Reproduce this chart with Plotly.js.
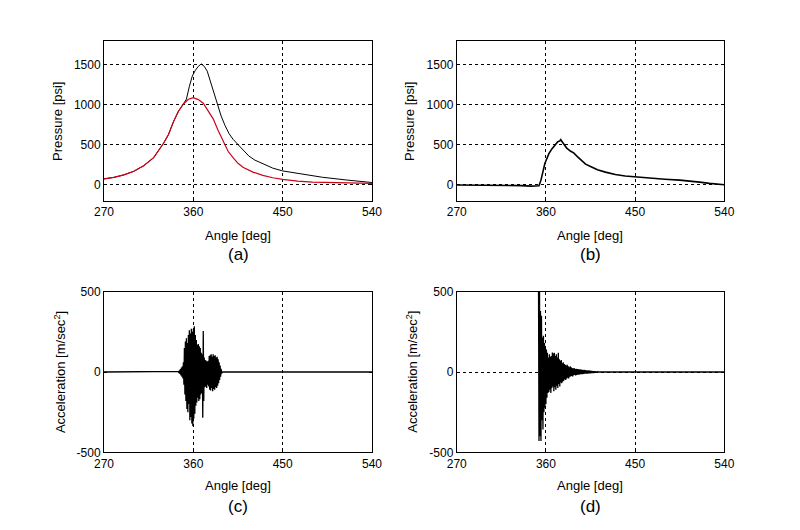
<!DOCTYPE html>
<html>
<head>
<meta charset="utf-8">
<script src="https://cdn.plot.ly/plotly-3.0.1.min.js"></script>
<style>html,body{margin:0;padding:0;background:#fff;}#chart{width:800px;height:530px;}</style>
</head>
<body>
<div id="chart"></div>
<script>
// ---------- Panel (a): pressure, two curves ----------
const angleA_red = [270,280,290,300,310,320,330,335,340,345,350,355,360,365,370,375,380,385,390,395,400,405,410,420,430,440,450,465,480,500,520,540];
const pressA_red = [75,95,125,170,240,340,520,630,790,920,1010,1070,1090,1065,1020,930,825,680,560,420,340,270,220,160,120,90,70,48,36,28,22,20];

const angleA_black = [270,280,290,300,310,320,330,335,340,345,350,353,356,359,362,365,368,371,374,377,380,384,388,392,396,400,405,410,416,422,430,440,450,464,477,490,514,540];
const pressA_black = [75,95,125,170,240,340,520,630,790,920,1010,1070,1230,1360,1430,1480,1510,1480,1420,1300,1180,1000,860,740,640,570,500,430,360,310,262,210,175,146,120,96,62,30];

// ---------- Panel (b): pressure ----------
const angleB = [270,300,320,335,345,350,353,355,357,359,361,363,366,369,372,374,375,376,378,381,385,388,392,396,400,405,412,420,430,440,450,465,480,495,505,515,525,532,540];
const pressB = [0,0,-3,-8,-15,-15,-10,60,170,270,330,390,450,500,540,550,565,545,510,460,420,400,350,300,260,230,190,160,130,112,100,85,72,60,52,35,20,12,3];

// ---------- Panel (c): acceleration ----------
const angleC = [270,
 345,345.5,346,346.5,347,347.5,348,348.5,349,349.5,350,350.5,351,351.5,352,352.5,353,353.5,354,354.5,
 355,355.5,356,356.5,357,357.5,358,358.5,359,359.5,360,360.5,361,361.5,362,362.5,363,363.5,364,364.5,
 365,365.5,366,366.5,367,367.5,368,368.5,369,369.5,370,370.5,371,371.5,372,372.5,373,373.5,374,374.5,
 375,375.5,376,376.5,377,377.5,378,378.5,379,379.5,380,380.5,381,381.5,382,382.5,383,383.5,384,384.5,
 385,385.5,386,386.5,387,387.5,388,388.5,389,
 540];
const accC = [0,
 4,-6,10,-12,18,-22,28,-30,35,-40,60,-80,150,-140,190,-180,210,-230,180,-250,
 230,-200,260,-300,240,-280,270,-320,250,-337,270,-290,285,-260,230,-210,200,-190,170,-160,
 175,-180,160,-170,150,-140,120,-130,110,-285,256,-180,90,-95,75,-90,70,-100,65,-80,
 70,-90,100,-110,105,-115,110,-100,95,-119,110,-105,100,-110,105,-95,90,-100,95,-85,
 80,-70,60,-50,40,-30,20,-10,0,
 0];

// ---------- Panel (d): acceleration ----------
const angleD = [
 352.5,353,353.5,354,354.5,355,355.5,356,356.5,357,357.5,358,358.5,359,359.5,360,360.5,361,361.5,362,
 362.5,363,363.5,364,364.5,365,365.5,366,366.5,367,367.5,368,368.5,369,369.5,370,370.5,371,371.5,372,
 372.5,373,373.5,374,374.5,375,375.5,376,376.5,377,377.5,378,378.5,379,379.5,380,380.5,381,381.5,382,
 382.5,383,383.5,384,384.5,385,385.5,386,386.5,387,387.5,388,388.5,389,389.5,390,390.5,391,391.5,392,
 392.5,393,393.5,394,394.5,395,395.5,396,396.5,397,397.5,398,398.5,399,399.5,400,400.5,401,401.5,402,
 402.5,403,403.5,404,404.5,405,405.5,406,406.5,407,407.5,408,408.5,409,409.5,410,410.5,411,411.5,412,
 412.5,413,540];
const accD = [
 600,-430,600,-400,380,-430,350,-300,215,-358,225,-250,180,-223,150,-200,140,-160,120,-130,
 90,-125,110,-110,95,-130,100,-100,121,-90,115,-120,120,-95,100,-110,110,-85,90,-100,
 120,-75,80,-90,70,-65,75,-70,55,-60,60,-55,50,-45,45,-50,40,-40,45,-35,
 35,-40,30,-30,35,-28,30,-25,25,-28,22,-20,25,-18,18,-22,20,-18,18,-16,
 18,-17,16,-15,17,-14,15,-14,13,-14,12,-12,13,-11,12,-11,10,-10,11,-10,
 9,-9,10,-8,8,-8,7,-7,7,-6,6,-6,5,-5,5,-4,4,-4,3,-3,
 2,0,0];

const xTicks = [270,360,450,540];
const xTickText = ['270','360','450','540'];
const yTicksP = [0,500,1000,1500];
const yTickTextP = ['0','500','1000','1500'];
const yTicksA = [-500,0,500];
const yTickTextA = ['-500','0','500'];

const FONT = 'Liberation Sans, Arial, sans-serif';

function xAxis(domain, anchor) {
  return {domain: domain, anchor: anchor, range: [270,540], tickmode: 'array', tickvals: xTicks, ticktext: xTickText,
    showline: true, linecolor: '#000', linewidth: 1, mirror: 'ticks', ticks: 'inside', ticklen: 3, tickcolor: '#000',
    showgrid: true, gridcolor: '#000', gridwidth: 1, griddash: '3px,3px', zeroline: false,
    tickfont: {family: FONT, size: 12, color: '#000'}, fixedrange: true};
}
function yAxis(domain, anchor, range, ticks, text, grid) {
  return {domain: domain, anchor: anchor, range: range, tickmode: 'array', tickvals: ticks, ticktext: text,
    showline: true, linecolor: '#000', linewidth: 1, mirror: 'ticks', ticks: 'inside', ticklen: 3, tickcolor: '#000',
    showgrid: grid, gridcolor: '#000', gridwidth: 1, griddash: '3px,3px', zeroline: false,
    tickfont: {family: FONT, size: 12, color: '#000'}, fixedrange: true};
}

const dxL = [0.13, 0.465], dxR = [0.5709, 0.9054];
const dyT = [0.6208, 0.9232], dyB = [0.1466, 0.4496];

const traces = [
  {x: angleA_black, y: pressA_black, xaxis: 'x', yaxis: 'y', mode: 'lines', line: {color: '#000', width: 1}},
  {x: angleA_red, y: pressA_red, xaxis: 'x', yaxis: 'y', mode: 'lines', line: {color: '#d00018', width: 1.2}},
  {x: angleB, y: pressB, xaxis: 'x2', yaxis: 'y2', mode: 'lines', line: {color: '#000', width: 1.6}},
  {x: angleC, y: accC, xaxis: 'x3', yaxis: 'y3', mode: 'lines', line: {color: '#000', width: 1.3}},
  {x: angleD, y: accD, xaxis: 'x4', yaxis: 'y4', mode: 'lines', line: {color: '#000', width: 1.3}}
];

function ann(text, x, y, size, angle) {
  return {text: text, x: x, y: y, xref: 'paper', yref: 'paper', xanchor: 'center', yanchor: 'middle',
    showarrow: false, textangle: angle || 0, font: {family: FONT, size: size, color: '#000'}};
}

const layout = {
  width: 800, height: 530, margin: {l: 0, r: 0, t: 0, b: 0},
  paper_bgcolor: '#fff', plot_bgcolor: '#fff', showlegend: false,
  font: {family: FONT, color: '#000'},
  xaxis: xAxis(dxL, 'y'), yaxis: yAxis(dyT, 'x', [-200,1800], yTicksP, yTickTextP, true),
  xaxis2: xAxis(dxR, 'y2'), yaxis2: yAxis(dyT, 'x2', [-200,1800], yTicksP, yTickTextP, true),
  xaxis3: xAxis(dxL, 'y3'), yaxis3: yAxis(dyB, 'x3', [-500,500], yTicksA, yTickTextA, false),
  xaxis4: xAxis(dxR, 'y4'), yaxis4: yAxis(dyB, 'x4', [-500,500], yTicksA, yTickTextA, true),
  annotations: [
    ann('Angle [deg]', 0.2975, 0.5566, 13),
    ann('Angle [deg]', 0.738, 0.5566, 13),
    ann('Angle [deg]', 0.2975, 0.0849, 13),
    ann('Angle [deg]', 0.738, 0.0849, 13),
    ann('(a)', 0.2975, 0.519, 17),
    ann('(b)', 0.738, 0.519, 17),
    ann('(c)', 0.2975, 0.044, 17),
    ann('(d)', 0.738, 0.044, 17),
    ann('Pressure [psi]', 0.0725, 0.7717, 13, -90),
    ann('Pressure [psi]', 0.5125, 0.7717, 13, -90),
    ann('Acceleration [m/sec<sup>2</sup>]', 0.075, 0.298, 13, -90),
    ann('Acceleration [m/sec<sup>2</sup>]', 0.5146, 0.298, 13, -90)
  ]
};

Plotly.newPlot('chart', traces, layout, {staticPlot: true, displayModeBar: false});
</script>
</body>
</html>
